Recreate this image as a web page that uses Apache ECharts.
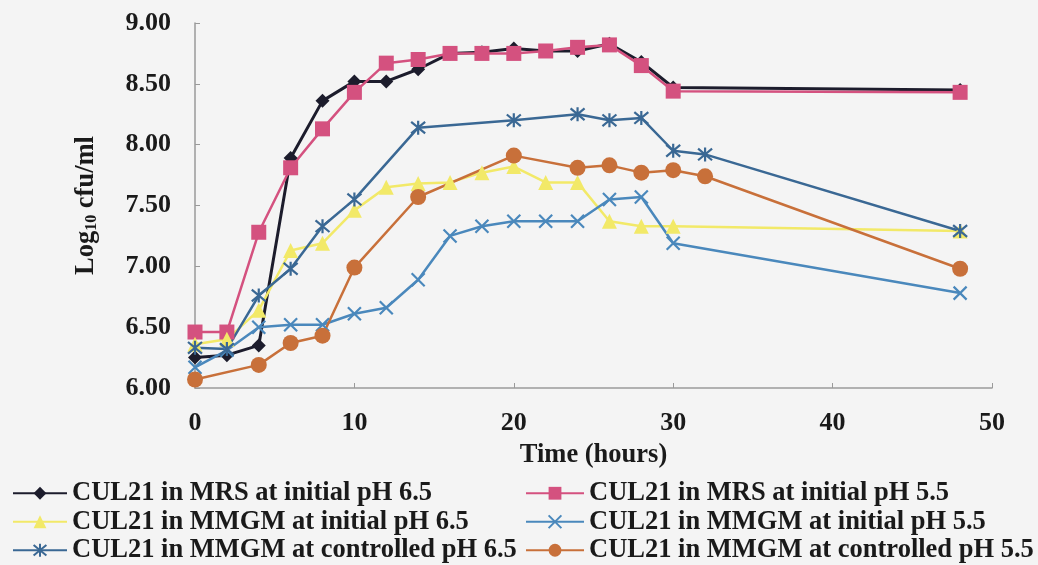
<!DOCTYPE html>
<html>
<head>
<meta charset="utf-8">
<script src="https://cdn.jsdelivr.net/npm/echarts@6/dist/echarts.min.js"></script>
<style>
html,body{margin:0;padding:0;background:#f4f4f4;}
#c{width:1038px;height:565px;}
</style>
</head>
<body>
<div id="c"></div>
<script>
// ---- data ----
var seriesNames = [
  'CUL21 in MRS at initial pH 6.5',
  'CUL21 in MRS at initial pH 5.5',
  'CUL21 in MMGM at initial pH 6.5',
  'CUL21 in MMGM at initial pH 5.5',
  'CUL21 in MMGM at controlled pH 6.5',
  'CUL21 in MMGM at controlled pH 5.5'
];
var hoursFull = [0,2,4,6,8,10,12,14,16,18,20,22,24,26,28,30,48];
var mrsPH65  = [6.25,6.27,6.35,7.89,8.36,8.52,8.52,8.62,8.75,8.76,8.79,8.77,8.77,8.83,8.68,8.47,8.45];
var mrsPH55  = [6.46,6.46,7.28,7.81,8.13,8.43,8.67,8.70,8.75,8.75,8.75,8.77,8.80,8.82,8.65,8.44,8.43];
var mmgmPH65 = [6.36,6.40,6.64,7.13,7.19,7.46,7.65,7.68,7.69,7.77,7.82,7.69,7.69,7.37,7.33,7.33,7.29];
var mmgmPH55 = [6.17,6.31,6.50,6.52,6.52,6.61,6.66,6.89,7.25,7.33,7.37,7.37,7.37,7.55,7.57,7.19,6.78];
var ctrlHours65 = [0,2,4,6,8,10,14,20,24,26,28,30,32,48];
var ctrlPH65 = [6.33,6.32,6.76,6.98,7.33,7.55,8.14,8.20,8.25,8.20,8.22,7.95,7.92,7.29];
var ctrlHours55 = [0,4,6,8,10,14,20,24,26,28,30,32,48];
var ctrlPH55 = [6.07,6.19,6.37,6.43,6.99,7.57,7.91,7.81,7.83,7.77,7.79,7.74,6.98];
var yTicks = ['6.00','6.50','7.00','7.50','8.00','8.50','9.00'];

function pairs(xs, ys){ return xs.map(function(x,i){ return [x, ys[i]]; }); }

var FONT = '"Liberation Serif","Times New Roman",serif';
var X_PATH = 'path://M0,0L10,10M10,0L0,10';
var STAR_PATH = 'path://M0,0L10,10M10,0L0,10M5,-1L5,11';

function mk(name, data, color, symbol, size, lw, outline){
  var s = {
    name: name, type: 'line', data: data,
    symbol: symbol, symbolSize: size,
    lineStyle: {color: color, width: lw},
    itemStyle: {color: color},
    emphasis: {disabled: true},
    animation: false
  };
  if (outline){
    s.itemStyle = {color: 'rgba(0,0,0,0)', borderColor: color, borderWidth: 2.2};
  }
  return s;
}

var chart = echarts.init(document.getElementById('c'), null, {renderer:'canvas'});
var legendText = {fontFamily: FONT, fontWeight: 'bold', fontSize: 26.5, color: '#1a1a1a', lineHeight: 28.5};
chart.setOption({
  backgroundColor: '#f4f4f4',
  animation: false,
  grid: {left: 195, right: 46, top: 23, bottom: 177, containLabel: false},
  legend: [
    {orient:'vertical', left: 12, top: 479, itemGap: 0, itemWidth: 54, itemHeight: 16,
     data: [seriesNames[0], seriesNames[2], seriesNames[4]], textStyle: legendText, padding: 0},
    {orient:'vertical', left: 525, top: 479, itemGap: 0, itemWidth: 58, itemHeight: 16,
     data: [seriesNames[1], seriesNames[3], seriesNames[5]], textStyle: legendText, padding: 0}
  ],
  xAxis: {
    type: 'value', min: 0, max: 50, interval: 10,
    name: 'Time (hours)', nameLocation: 'middle', nameGap: 54,
    nameTextStyle: {fontFamily: FONT, fontWeight: 'bold', fontSize: 26.5, color: '#1a1a1a'},
    axisLine: {lineStyle: {color: '#9a9a9a', width: 1.5}},
    axisTick: {inside: true, length: 5, lineStyle: {color: '#9a9a9a'}},
    axisLabel: {fontFamily: FONT, fontWeight: 'bold', fontSize: 26, color: '#1a1a1a', margin: 22},
    splitLine: {show: false}
  },
  yAxis: {
    type: 'value', min: 6, max: 9, interval: 0.5,
    name: '{a|Log}{b|10}{a| cfu/ml}', nameLocation: 'middle', nameGap: 95,
    nameTextStyle: {
      rich: {
        a: {fontFamily: FONT, fontWeight: 'bold', fontSize: 26.5, color: '#1a1a1a'},
        b: {fontFamily: FONT, fontWeight: 'bold', fontSize: 16, color: '#1a1a1a', padding: [12,0,0,0]}
      }
    },
    axisLine: {show: true, lineStyle: {color: '#9a9a9a', width: 1.5}},
    axisTick: {show: true, inside: true, length: 5, lineStyle: {color: '#9a9a9a'}},
    axisLabel: {fontFamily: FONT, fontWeight: 'bold', fontSize: 26, color: '#1a1a1a', margin: 24,
      formatter: function(v){ return yTicks[Math.round((v-6)/0.5)]; }},
    splitLine: {show: false}
  },
  series: [
    mk(seriesNames[0], pairs(hoursFull, mrsPH65), '#1c1c2c', 'diamond', 14, 3),
    mk(seriesNames[1], pairs(hoursFull, mrsPH55), '#d4517f', 'rect', 15, 2.5),
    mk(seriesNames[2], pairs(hoursFull, mmgmPH65), '#f2e968', 'triangle', 15, 2.5),
    mk(seriesNames[3], pairs(hoursFull, mmgmPH55), '#4a88bc', X_PATH, 13, 2.5, true),
    mk(seriesNames[4], pairs(ctrlHours65, ctrlPH65), '#3a6894', STAR_PATH, 14, 2.5, true),
    mk(seriesNames[5], pairs(ctrlHours55, ctrlPH55), '#c8703a', 'circle', 16, 2.5)
  ]
});
</script>
</body>
</html>
